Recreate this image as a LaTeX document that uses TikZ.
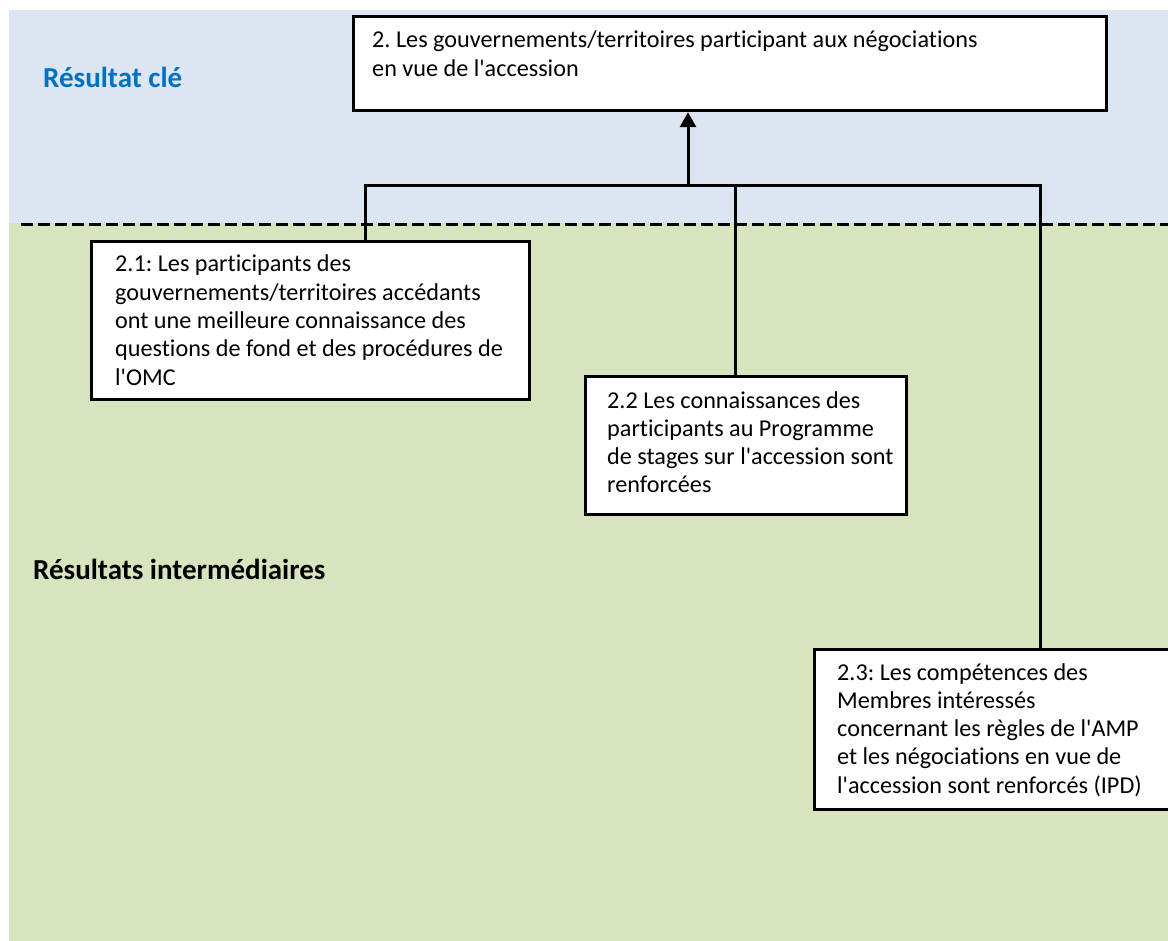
\documentclass[tikz,border=0pt]{standalone}
\usepackage{fontspec}
\newfontfamily\calfont{Carlito}[Ligatures=NoCommon]
\usetikzlibrary{arrows.meta}
\definecolor{keyband}{HTML}{DCE6F2}
\definecolor{midband}{HTML}{D8E4BD}
\definecolor{keyblue}{HTML}{0070C0}
\frenchspacing
\newcommand\boxtext[1]{\parbox[t]{720pt}{\calfont\frenchspacing\fontsize{24.2}{28.3}\selectfont #1}}
\tikzset{
  box/.style={draw=black, line width=3.2pt, fill=white, anchor=north west, inner sep=0pt},
  txt/.style={anchor=base west, inner sep=0pt, align=left},
  band/.style={anchor=base west, inner sep=0pt, font=\calfont\bfseries\fontsize{29}{33}\selectfont},
  conn/.style={line width=3pt, draw=black},
  arrowline/.style={conn, -{Triangle[width=16pt,length=15pt]}}
}
\begin{document}
\begin{tikzpicture}[x=1pt,y=-1pt]
  \useasboundingbox (0,0) rectangle (1168,941);
  % background bands
  \fill[keyband] (9,10) rectangle (1168,223);
  \fill[midband] (9,223) rectangle (1168,941);
  \draw[line width=3pt, dash pattern=on 12pt off 5pt] (21,225) -- (1168,225);

  % band labels
  \node[band, text=keyblue] (lkey) at (43,88) {Résultat clé};
  \node[band, text=black] (lmid) at (33,579) {Résultats intermédiaires};

  % boxes
  \node[box, minimum width=753pt, minimum height=94pt] (top) at (352,15) {};
  \node[box, minimum width=438pt, minimum height=158pt] (b21) at (90,240) {};
  \node[box, minimum width=321pt, minimum height=138pt] (b22) at (584,375) {};
  \node[box, minimum width=370pt, minimum height=160pt] (b23) at (813,648) {};

  % box texts
  \node[txt] (ttop) at (372,48) {\boxtext{2. Les gouvernements/territoires participant aux négociations\\en vue de l'accession}};
  \node[txt] (t21) at (115,272) {\boxtext{2.1: Les participants des\\gouvernements/territoires accédants\\ont une meilleure connaissance des\\questions de fond et des procédures de\\l'OMC}};
  \node[txt] (t22) at (607,408) {\boxtext{2.2 Les connaissances des\\participants au Programme\\de stages sur l'accession sont\\renforcées}};
  \node[txt] (t23) at (837,680) {\boxtext{2.3: Les compétences des\\Membres intéressés\\concernant les règles de l'AMP\\et les négociations en vue de\\l'accession sont renforcés (IPD)}};

  % connectors
  \coordinate (hub) at (688,186);
  \draw[arrowline] (hub) -- (top.south -| hub);
  \draw[conn] ([xshift=275pt]b21.north west) |- (hub);
  \draw[conn] ([xshift=151pt]b22.north west) |- (hub);
  \draw[conn] ([xshift=227pt]b23.north west) |- (hub);
\end{tikzpicture}
\end{document}
